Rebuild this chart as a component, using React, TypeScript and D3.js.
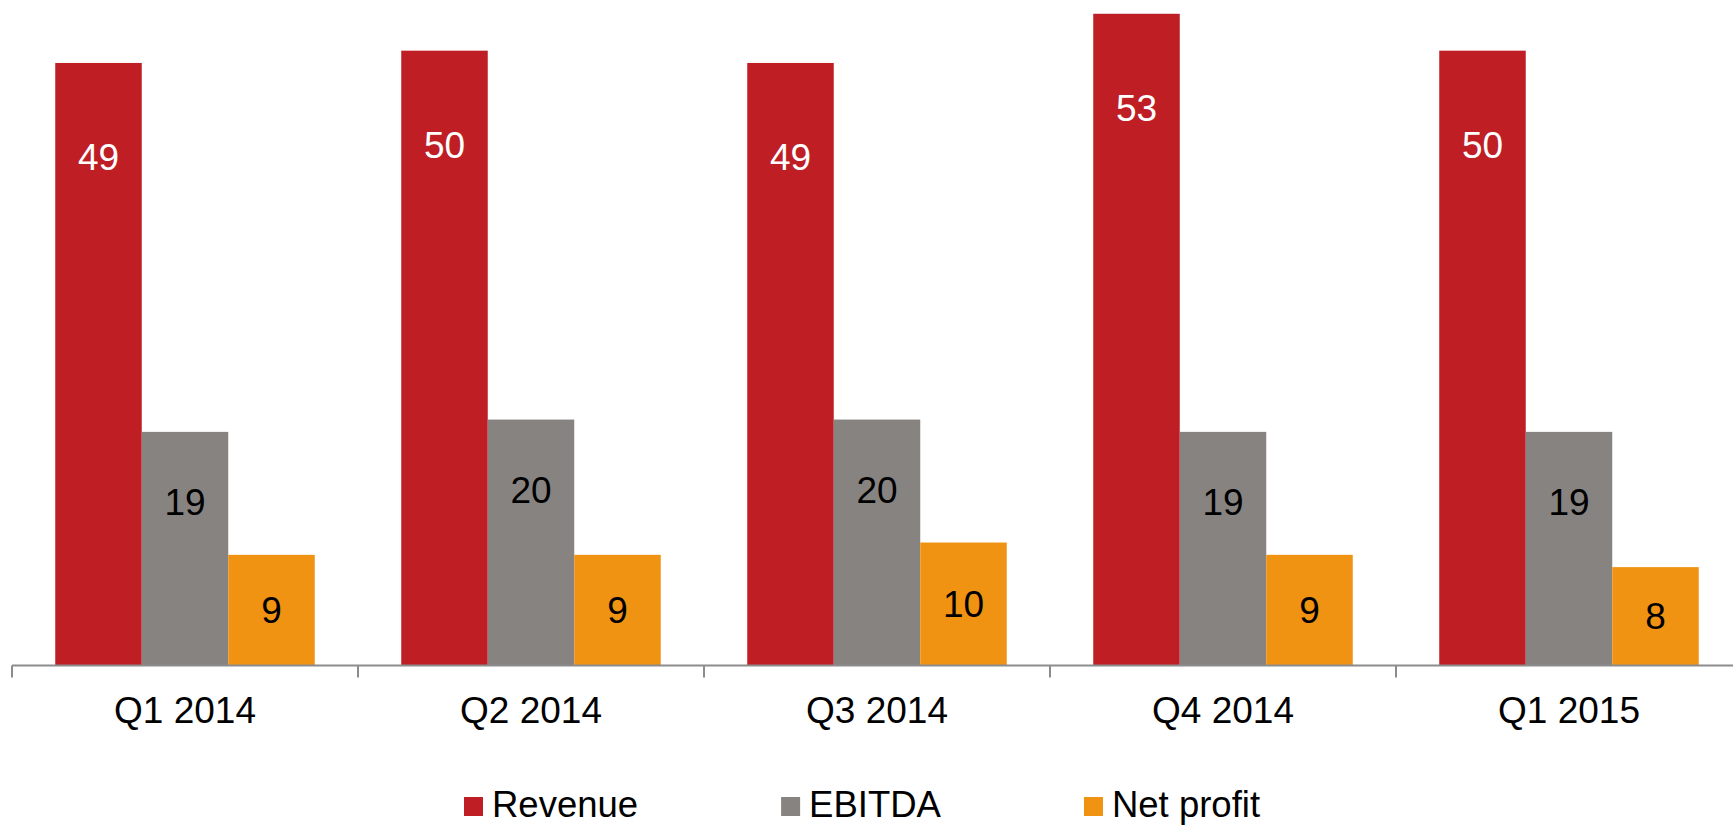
import React, { useEffect, useRef } from "react";
import * as d3 from "d3";

// quarterly figures
const quarters = ["Q1 2014", "Q2 2014", "Q3 2014", "Q4 2014", "Q1 2015"];
const seriesNames = ["Revenue", "EBITDA", "Net profit"];
const revenue = [49, 50, 49, 53, 50];
const ebitda = [19, 20, 20, 19, 19];
const netProfit = [9, 9, 10, 9, 8];

const colors = ["#BE1E24", "#878381", "#F09212"];
const labelColors = ["#ffffff", "#000000", "#000000"];

const App = () => {
  const svgRef = useRef<SVGSVGElement>(null);

  useEffect(() => {
    const width = 1733,
      height = 826;
    const font = "'Liberation Sans', Arial, sans-serif";
    const values = [revenue, ebitda, netProfit];

    const data = quarters.map((q, i) => ({
      quarter: q,
      vals: seriesNames.map((s, j) => ({ key: s, idx: j, value: values[j][i] })),
    }));

    const svg = d3.select(svgRef.current);
    svg.selectAll("*").remove();
    svg.attr("width", width).attr("height", height);

    const x0 = d3
      .scaleBand()
      .domain(quarters)
      .range([12, 1742])
      .paddingInner(0.25)
      .paddingOuter(0.125);

    const x1 = d3
      .scaleBand()
      .domain(seriesNames)
      .range([0, x0.bandwidth()]);

    const baseY = 665.5;
    const yScale = d3.scaleLinear().domain([0, 54.12]).range([baseY, 0]);

    const groups = svg
      .selectAll(".group")
      .data(data)
      .enter()
      .append("g")
      .attr("class", "group")
      .attr("transform", (d) => `translate(${x0(d.quarter)},0)`);

    groups
      .selectAll("rect")
      .data((d) => d.vals)
      .enter()
      .append("rect")
      .attr("x", (d) => x1(d.key)!)
      .attr("y", (d) => yScale(d.value))
      .attr("width", x1.bandwidth())
      .attr("height", (d) => baseY - yScale(d.value))
      .style("fill", (d) => colors[d.idx]);

    // labels sit near the top of the tall bars, centred in the short ones
    const labelY = (d: any) => {
      const top = yScale(d.value);
      if (d.idx === 0) return top + 94;
      if (d.idx === 1) return top + 70;
      return (top + baseY) / 2;
    };

    groups
      .selectAll("text")
      .data((d) => d.vals)
      .enter()
      .append("text")
      .attr("x", (d) => x1(d.key)! + x1.bandwidth() / 2)
      .attr("y", (d) => labelY(d) + 13)
      .attr("text-anchor", "middle")
      .style("font-family", font)
      .style("font-size", "37px")
      .style("fill", (d) => labelColors[d.idx])
      .text((d) => d.value);

    // category axis
    const axis = svg.append("g");
    axis
      .append("line")
      .attr("x1", 12)
      .attr("x2", width)
      .attr("y1", baseY)
      .attr("y2", baseY)
      .style("stroke", "#8c8c8c")
      .style("stroke-width", 2);

    const step = x0.step();
    axis
      .selectAll(".tick")
      .data(d3.range(quarters.length + 1))
      .enter()
      .append("line")
      .attr("class", "tick")
      .attr("x1", (i) => 12 + i * step)
      .attr("x2", (i) => 12 + i * step)
      .attr("y1", baseY)
      .attr("y2", baseY + 12)
      .style("stroke", "#8c8c8c")
      .style("stroke-width", 2);

    axis
      .selectAll(".cat")
      .data(quarters)
      .enter()
      .append("text")
      .attr("class", "cat")
      .attr("x", (d) => x0(d)! + x0.bandwidth() / 2)
      .attr("y", 723)
      .attr("text-anchor", "middle")
      .style("font-family", font)
      .style("font-size", "37px")
      .style("fill", "#000")
      .text((d) => d);

    // legend, items spaced evenly and centred
    const legend = svg.append("g");
    const items = legend
      .selectAll(".item")
      .data(seriesNames)
      .enter()
      .append("g")
      .attr("class", "item");
    items
      .append("rect")
      .attr("width", 19)
      .attr("height", 19)
      .attr("y", 797)
      .style("fill", (d, i) => colors[i]);
    items
      .append("text")
      .attr("x", 28)
      .attr("y", 817)
      .style("font-family", font)
      .style("font-size", "36.5px")
      .style("fill", "#000")
      .text((d) => d);

    const widths: number[] = [];
    items.each(function () {
      const t = d3.select(this).select("text").node() as SVGTextElement;
      widths.push(28 + t.getComputedTextLength());
    });
    const gap = 143;
    let xPos = 464;
    items.attr("transform", (d, i) => {
      const tr = `translate(${xPos},0)`;
      xPos += widths[i] + gap;
      return tr;
    });
  }, []);

  return (
    <svg
      ref={svgRef}
      style={{ position: "absolute", left: 0, top: 0, background: "#fff" }}
    ></svg>
  );
};

export default App;
